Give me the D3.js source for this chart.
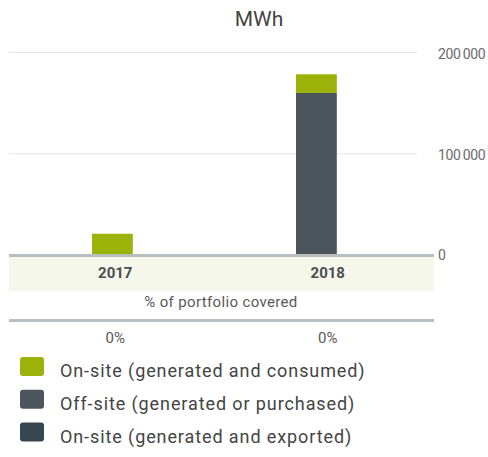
<!DOCTYPE html>
<html>
<head>
<meta charset="utf-8">
<script src="https://cdn.jsdelivr.net/npm/d3@7"></script>
<style>
  html, body { margin: 0; padding: 0; background: #fff; }
  svg { display: block; font-family: Roboto, "Noto Sans", sans-serif; }
</style>
</head>
<body>
<svg id="chart" width="488" height="457"></svg>
<script>
// Renewable electricity by source, MWh
const years = ["2017", "2018"];
const seriesNames = [
  "On-site (generated and consumed)",
  "Off-site (generated or purchased)",
  "On-site (generated and exported)"
];
const seriesColors = ["#9bb20a", "#4d555c", "#36464f"];
const onsiteConsumed = [21000, 18500];
const offsite = [0, 160000];
const onsiteExported = [0, 0];
const coverage = ["0%", "0%"];
const yTicks = [0, 100000, 200000];

const svg = d3.select("#chart");

const plotLeft = 9, plotRight = 417, tableRight = 434;
const y = d3.scaleLinear().domain([0, 200000]).range([255, 52.5]);
const x = d3.scaleBand().domain(years).range([plotLeft + 1.4, plotRight + 1.4]).paddingInner(0.8).paddingOuter(0.4);
const xLabel = d3.scaleBand().domain(years).range([plotLeft, tableRight]);

// title
svg.append("text").attr("x", 259).attr("y", 26).attr("text-anchor", "middle")
  .attr("font-size", 21).attr("fill", "#444").text("MWh");

// gridlines + right-side tick labels
const fmt = v => d3.format(",")(v).replace(/,/g, "\u2009");
svg.append("g").selectAll("line").data(yTicks.filter(d => d > 0)).join("line")
  .attr("x1", plotLeft).attr("x2", plotRight)
  .attr("y1", d => y(d)).attr("y2", d => y(d))
  .attr("stroke", "#e2e2e2").attr("stroke-width", 1.2);
svg.append("g").selectAll("text").data(yTicks).join("text")
  .attr("x", 438).attr("y", d => y(d) + (d === 0 ? 0 : 1.5)).attr("dy", "0.35em")
  .attr("font-size", 14).attr("fill", "#6b6b6b").attr("letter-spacing", -0.4)
  .text(d => d === 0 ? "0" : fmt(d));

// stacked bars
const rows = years.map((yr, i) => ({
  year: yr, a: onsiteConsumed[i], b: offsite[i], c: onsiteExported[i]
}));
const stack = d3.stack().keys(["b", "c", "a"]);
const keyColor = { a: seriesColors[0], b: seriesColors[1], c: seriesColors[2] };
svg.append("g").selectAll("g").data(stack(rows)).join("g")
  .attr("fill", s => keyColor[s.key])
  .selectAll("rect").data(s => s).join("rect")
  .attr("x", d => x(d.data.year)).attr("width", x.bandwidth())
  .attr("y", d => y(d[1])).attr("height", d => Math.max(0, y(d[0]) - y(d[1])));

// category band
svg.append("rect").attr("x", plotLeft).attr("y", 256).attr("width", tableRight - plotLeft)
  .attr("height", 35).attr("fill", "#f5f7ea");
svg.append("line").attr("x1", plotLeft).attr("x2", tableRight).attr("y1", 255.5).attr("y2", 255.5)
  .attr("stroke", "#b8bdc1").attr("stroke-width", 3);
svg.append("g").selectAll("text").data(years).join("text")
  .attr("x", d => xLabel(d) + xLabel.bandwidth() / 2).attr("y", 278)
  .attr("text-anchor", "middle").attr("font-size", 15).attr("font-weight", "bold")
  .attr("fill", "#4a4f53").text(d => d);

// coverage row
svg.append("text").attr("x", 221).attr("y", 306.5).attr("text-anchor", "middle")
  .attr("font-size", 15).attr("letter-spacing", 0.35).attr("fill", "#5a5a5a")
  .text("% of portfolio covered");
svg.append("line").attr("x1", plotLeft).attr("x2", tableRight).attr("y1", 320.5).attr("y2", 320.5)
  .attr("stroke", "#b8bdc1").attr("stroke-width", 3);
svg.append("g").selectAll("text").data(coverage).join("text")
  .attr("x", (d, i) => xLabel(years[i]) + xLabel.bandwidth() / 2).attr("y", 342.5)
  .attr("text-anchor", "middle").attr("font-size", 15).attr("fill", "#5a5a5a").text(d => d);

// legend
const legend = svg.append("g").selectAll("g").data(seriesNames).join("g")
  .attr("transform", (d, i) => `translate(20, ${357 + i * 32.8})`);
legend.append("rect").attr("width", 24).attr("height", 19).attr("rx", 3)
  .attr("fill", (d, i) => seriesColors[i]);
legend.append("text").attr("x", 40).attr("y", 20).attr("font-size", 18)
  .attr("letter-spacing", 0.9).attr("fill", "#444").text(d => d);
</script>
</body>
</html>
